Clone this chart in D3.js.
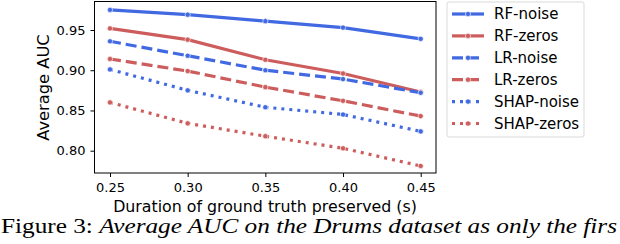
<!DOCTYPE html>
<html>
<head>
<meta charset="utf-8">
<script src="https://cdn.jsdelivr.net/npm/d3@7"></script>
<style>
  body { margin: 0; background: #fff; }
  svg { display: block; }
</style>
</head>
<body>
<div id="content"></div>
<script>
// data
var durations = [0.25, 0.30, 0.35, 0.40, 0.45];
var seriesNames = ["RF-noise", "RF-zeros", "LR-noise", "LR-zeros", "SHAP-noise", "SHAP-zeros"];
var rfNoise   = [0.975, 0.969, 0.961, 0.953, 0.939];
var rfZeros   = [0.952, 0.938, 0.913, 0.896, 0.873];
var lrNoise   = [0.936, 0.918, 0.900, 0.889, 0.872];
var lrZeros   = [0.914, 0.899, 0.879, 0.862, 0.843];
var shapNoise = [0.901, 0.875, 0.854, 0.845, 0.824];
var shapZeros = [0.860, 0.834, 0.818, 0.803, 0.781];
var yTicks = [0.80, 0.85, 0.90, 0.95];

var allValues = [rfNoise, rfZeros, lrNoise, lrZeros, shapNoise, shapZeros];
var colors = ["#4169e1", "#cd5c5c", "#4169e1", "#cd5c5c", "#4169e1", "#cd5c5c"];
var dashes = [null, null, "11,5", "11,5", "3,5", "3,5"];

var W = 620, H = 244;
var plot = {left: 94.5, right: 436, top: 1.5, bottom: 173};

var svg = d3.select("#content")
  .append("svg")
  .attr("width", W)
  .attr("height", H);

// calibrated on the tick positions of the picture
var x = d3.scaleLinear().domain([0.25, 0.45]).range([110, 420.7]);
var y = d3.scaleLinear().domain([0.80, 0.95]).range([150.7, 30]);

var tickFont = "'DejaVu Sans', sans-serif";

// axes
var xAxis = d3.axisBottom(x).tickValues(durations).tickFormat(d3.format(".2f")).tickSize(4).tickPadding(6);
var yAxis = d3.axisLeft(y).tickValues(yTicks).tickFormat(d3.format(".2f")).tickSize(4).tickPadding(5);

var gx = svg.append("g")
  .attr("transform", "translate(0," + plot.bottom + ")")
  .call(xAxis);
var gy = svg.append("g")
  .attr("transform", "translate(" + plot.left + ",0)")
  .call(yAxis);

[gx, gy].forEach(function(g) {
  g.select(".domain").remove();
  g.selectAll("line").attr("stroke", "#000").attr("stroke-width", 1);
  g.selectAll("text").attr("fill", "#000").style("font-family", tickFont).style("font-size", "13px");
});

// lines
var line = d3.line()
  .x(function(d, i) { return x(durations[i]); })
  .y(function(d) { return y(d); });

var series = seriesNames.map(function(n, i) { return {name: n, values: allValues[i], color: colors[i], dash: dashes[i]}; });

var gs = svg.selectAll(".series")
  .data(series)
  .join("g")
  .attr("class", "series");

gs.append("path")
  .attr("d", function(d) { return line(d.values); })
  .attr("fill", "none")
  .attr("stroke", function(d) { return d.color; })
  .attr("stroke-width", 3.2)
  .attr("stroke-dasharray", function(d) { return d.dash; });

gs.selectAll("circle")
  .data(function(d) { return d.values.map(function(v, i) { return {v: v, i: i, color: d.color}; }); })
  .join("circle")
  .attr("cx", function(d) { return x(durations[d.i]); })
  .attr("cy", function(d) { return y(d.v); })
  .attr("r", 2.6)
  .attr("fill", function(d) { return d.color; })
  .attr("stroke", "#fff")
  .attr("stroke-width", 0.6);

// frame
svg.append("rect")
  .attr("x", plot.left)
  .attr("y", plot.top)
  .attr("width", plot.right - plot.left)
  .attr("height", plot.bottom - plot.top)
  .attr("fill", "none")
  .attr("stroke", "#000")
  .attr("stroke-width", 1);

// axis labels
svg.append("text")
  .attr("transform", "translate(49,87.5) rotate(-90)")
  .attr("text-anchor", "middle")
  .style("font-family", tickFont)
  .style("font-size", "16.3px")
  .text("Average AUC");

svg.append("text")
  .attr("x", 265)
  .attr("y", 212)
  .attr("text-anchor", "middle")
  .style("font-family", tickFont)
  .style("font-size", "15.8px")
  .text("Duration of ground truth preserved (s)");

// legend
var legend = svg.append("g").attr("transform", "translate(447,2)");
legend.append("rect")
  .attr("width", 137)
  .attr("height", 135)
  .attr("rx", 2)
  .attr("fill", "#fff")
  .attr("stroke", "#d9d9d9")
  .attr("stroke-width", 1);

var items = legend.selectAll(".item")
  .data(series)
  .join("g")
  .attr("class", "item")
  .attr("transform", function(d, i) { return "translate(0," + (12 + i * 21.9) + ")"; });

items.append("line")
  .attr("x1", 5).attr("x2", 37)
  .attr("stroke", function(d) { return d.color; })
  .attr("stroke-width", 3.2)
  .attr("stroke-dasharray", function(d) { return d.dash; });
items.append("circle")
  .attr("cx", 21).attr("r", 2.6)
  .attr("fill", function(d) { return d.color; })
  .attr("stroke", "#fff").attr("stroke-width", 0.6);
items.append("text")
  .attr("x", 47)
  .attr("dy", "0.35em")
  .style("font-family", tickFont)
  .style("font-size", "15px")
  .text(function(d) { return d.name; });

// caption (cut off at the right edge in the picture)
var cap = svg.append("text")
  .attr("x", 1)
  .attr("y", 233)
  .attr("textLength", 616)
  .attr("lengthAdjust", "spacingAndGlyphs")
  .style("font-family", "'Liberation Serif', serif")
  .style("font-size", "20px");
cap.append("tspan").text("Figure 3: ");
cap.append("tspan").style("font-style", "italic").text("Average AUC on the Drums dataset as only the firs");
</script>
</body>
</html>
